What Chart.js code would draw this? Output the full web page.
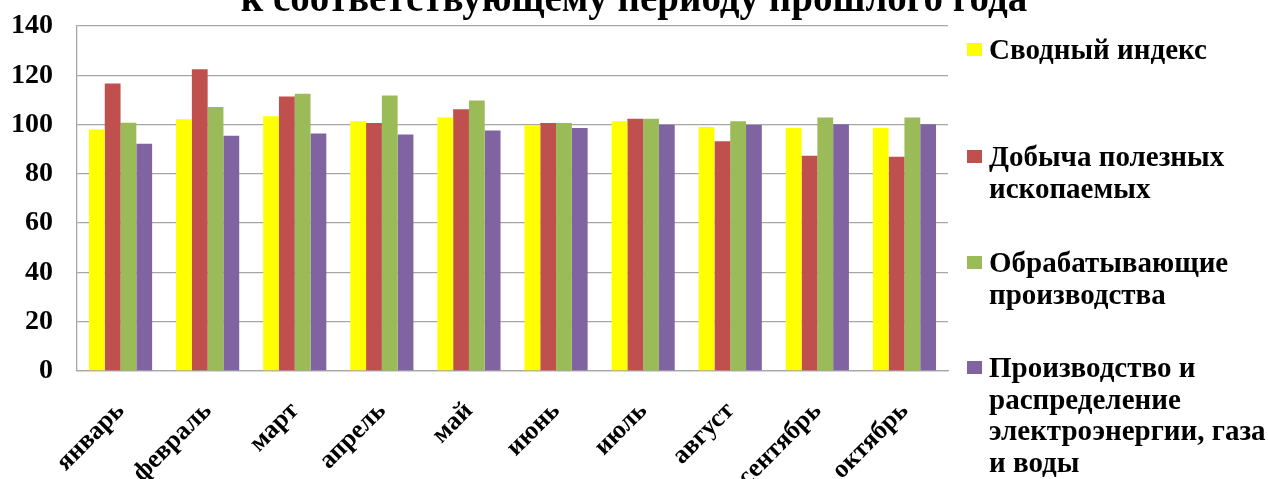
<!DOCTYPE html>
<html>
<head>
<meta charset="utf-8">
<script src="https://cdn.jsdelivr.net/npm/chart.js@4/dist/chart.umd.min.js"></script>
<style>
  html, body { margin:0; padding:0; background:#fff; overflow:hidden; }
  #wrap { position:relative; width:1268px; height:479px; overflow:hidden; }
  #c { position:absolute; left:0; top:0; }
  #title { position:absolute; left:0; width:1268px; top:-22px; text-align:center;
           font:bold 39px/39px "Liberation Serif", serif; color:#000; white-space:nowrap; }
  .lg { position:absolute; left:967px; font:bold 29px/31.7px "Liberation Serif", serif; color:#000; white-space:nowrap; }
  .lg .sw { position:absolute; left:0; top:9px; width:15px; height:13px; }
  .lg .tx { position:absolute; left:22px; top:0; }
</style>
</head>
<body>
<div id="wrap">
  <canvas id="c" width="1268" height="479"></canvas>
  <div id="title">к соответствующему периоду прошлого года</div>
  <div id="legend"></div>
</div>
<script>
const categories = ['январь','февраль','март','апрель','май','июнь','июль','август','сентябрь','октябрь'];
const svodnyIndex   = [98.0, 102.2, 103.4, 101.3, 102.9, 99.7, 101.3, 99.0, 98.6, 98.6];
const dobycha       = [116.7, 122.5, 111.4, 100.6, 106.2, 100.6, 102.4, 93.2, 87.3, 86.9];
const obrabatyv     = [100.7, 107.1, 112.5, 111.8, 109.8, 100.6, 102.4, 101.3, 102.9, 102.9];
const energo        = [92.2, 95.5, 96.4, 96.0, 97.6, 98.6, 99.9, 99.8, 100.1, 100.1];
const yTicks = [0, 20, 40, 60, 80, 100, 120, 140];
const seriesLines = [
  ['Сводный индекс'],
  ['Добыча полезных', 'ископаемых'],
  ['Обрабатывающие', 'производства'],
  ['Производство и', 'распределение', 'электроэнергии, газа', 'и воды']
];
const seriesColors = ['#FFFF00', '#C0504D', '#9BBB59', '#8064A2'];
const seriesData = [svodnyIndex, dobycha, obrabatyv, energo];

const legendTops = [34, 141, 247, 352];

const gridColor = '#a6a6a6';
const fontFamily = '"Liberation Serif", "Times New Roman", serif';

const chart = new Chart(document.getElementById('c'), {
  type: 'bar',
  data: {
    labels: categories,
    datasets: seriesData.map((d, i) => ({
      label: seriesLines[i].join(' '),
      data: d,
      backgroundColor: seriesColors[i],
      borderWidth: 0,
      categoryPercentage: 0.725,
      barPercentage: 1.0
    }))
  },
  options: {
    responsive: false,
    animation: false,
    layout: { padding: { left: 0, right: 320, top: 26, bottom: 0 } },
    plugins: { legend: { display: false }, title: { display: false }, tooltip: { enabled: false } },
    scales: {
      y: {
        min: 0, max: 140,
        afterBuildTicks: s => { s.ticks = yTicks.map(v => ({ value: v })); },
        afterFit: s => { s.width = 77; s.paddingTop = 0; s.paddingBottom = 0; },
        ticks: { color: '#000', font: { family: fontFamily, size: 28, weight: 'bold' }, padding: 24 },
        grid: { color: gridColor, lineWidth: 1.3, drawTicks: false },
        border: { color: gridColor, width: 1.3 }
      },
      x: {
        afterFit: s => { s.height = 108; },
        ticks: { color: '#000', font: { family: fontFamily, size: 26, weight: 'bold' }, minRotation: 45, maxRotation: 45, padding: 25, autoSkip: false },
        grid: { display: false, drawTicks: false },
        border: { color: gridColor, width: 1.3 }
      }
    }
  }
});

const lg = document.getElementById('legend');
chart.data.datasets.forEach((ds, i) => {
  const item = document.createElement('div');
  item.className = 'lg';
  item.style.top = legendTops[i] + 'px';
  const sw = document.createElement('div');
  sw.className = 'sw';
  sw.style.background = ds.backgroundColor;
  const tx = document.createElement('div');
  tx.className = 'tx';
  seriesLines[i].forEach((line, k) => {
    if (k) tx.appendChild(document.createElement('br'));
    tx.appendChild(document.createTextNode(line));
  });
  item.appendChild(sw);
  item.appendChild(tx);
  lg.appendChild(item);
});
</script>
</body>
</html>
